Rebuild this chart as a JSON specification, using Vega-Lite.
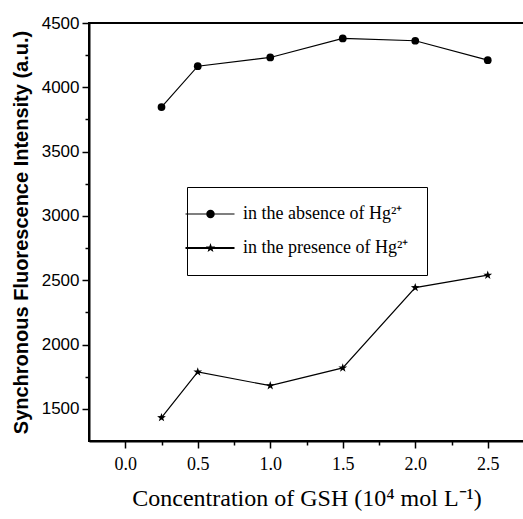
{
  "$schema": "https://vega.github.io/schema/vega-lite/v6.json",
  "autosize": "none",
  "width": 435,
  "height": 418,
  "padding": {"left": 89, "top": 23, "right": 0, "bottom": 78},
  "background": "white",
  "config": {
    "view": {"stroke": "black", "strokeWidth": 2},
    "axis": {"domainColor": "black", "domainWidth": 2, "tickColor": "black", "tickWidth": 1.5, "labelColor": "black", "titleColor": "black", "grid": false}
  },
  "data": {
    "values": [
      {"x": 0.25, "y": 3846, "s": "absence"},
      {"x": 0.5, "y": 4164, "s": "absence"},
      {"x": 1.0, "y": 4232, "s": "absence"},
      {"x": 1.5, "y": 4380, "s": "absence"},
      {"x": 2.0, "y": 4362, "s": "absence"},
      {"x": 2.5, "y": 4211, "s": "absence"},
      {"x": 0.25, "y": 1432, "s": "presence"},
      {"x": 0.5, "y": 1787, "s": "presence"},
      {"x": 1.0, "y": 1680, "s": "presence"},
      {"x": 1.5, "y": 1818, "s": "presence"},
      {"x": 2.0, "y": 2443, "s": "presence"},
      {"x": 2.5, "y": 2539, "s": "presence"}
    ]
  },
  "encoding": {
    "x": {
      "field": "x", "type": "quantitative",
      "scale": {"domain": [-0.25, 2.75], "nice": false, "zero": false},
      "axis": {
        "title": "Concentration of GSH (10⁴ mol L⁻¹)",
        "titleFont": "Liberation Serif", "titleFontSize": 24, "titleFontWeight": "normal", "titlePadding": 13,
        "values": [0, 0.25, 0.5, 0.75, 1, 1.25, 1.5, 1.75, 2, 2.25, 2.5, 2.75],
        "labelExpr": "(datum.value * 2) % 1 === 0 ? format(datum.value, '.1f') : ''",
        "labelFont": "Liberation Serif", "labelFontSize": 18, "labelPadding": 7,
        "tickSize": {"condition": {"test": "(datum.value * 2) % 1 === 0", "value": 7}, "value": 4}
      }
    },
    "y": {
      "field": "y", "type": "quantitative",
      "scale": {"domain": [1250, 4500], "nice": false, "zero": false},
      "axis": {
        "title": "Synchronous Fluorescence Intensity (a.u.)",
        "titleFont": "Liberation Sans", "titleFontSize": 20, "titleFontWeight": "bold", "titlePadding": 10,
        "values": [1500, 1750, 2000, 2250, 2500, 2750, 3000, 3250, 3500, 3750, 4000, 4250, 4500],
        "labelExpr": "datum.value % 500 === 0 ? format(datum.value, 'd') : ''",
        "labelFont": "Liberation Sans", "labelFontSize": 17, "labelPadding": 3,
        "tickSize": {"condition": {"test": "datum.value % 500 === 0", "value": 7}, "value": 4}
      }
    }
  },
  "layer": [
    {
      "mark": {"type": "line", "color": "black", "strokeWidth": 1.2},
      "encoding": {"detail": {"field": "s"}}
    },
    {
      "mark": {"type": "point", "filled": true, "color": "black", "opacity": 1},
      "encoding": {
        "size": {"condition": {"test": "datum.s === 'absence'", "value": 60}, "value": 85},
        "shape": {
          "field": "s", "type": "nominal",
          "scale": {"domain": ["absence", "presence"], "range": ["circle", "M0,-1L0.235,-0.324L0.951,-0.309L0.38,0.124L0.588,0.809L0,0.4L-0.588,0.809L-0.38,0.124L-0.951,-0.309L-0.235,-0.324Z"]},
          "legend": null
        }
      }
    },
    {
      "mark": {"type": "point", "filled": true, "fill": "black", "opacity": 0},
      "encoding": {
        "shape": {
          "field": "s", "type": "nominal",
          "scale": {"domain": ["absence", "presence"], "range": ["M-5,-0.12H4.8V0.12H-5ZM0.85,0A0.85,0.85,0,1,1,-0.85,0A0.85,0.85,0,1,1,0.85,0Z", "M-5,-0.2H4.8V0.2H-5ZM0,-1L0.235,-0.324L0.951,-0.309L0.38,0.124L0.588,0.809L0,0.4L-0.588,0.809L-0.38,0.124L-0.951,-0.309L-0.235,-0.324Z"]},
          "legend": {
            "orient": "none", "legendX": 98, "legendY": 164, "title": null,
            "labelExpr": "datum.value === 'absence' ? 'in the absence of Hg²⁺' : 'in the presence of Hg²⁺'",
            "labelFont": "Liberation Serif", "labelFontSize": 18, "labelColor": "black", "labelLimit": 400,
            "padding": 18, "rowPadding": 16, "labelOffset": 23.5, "symbolOffset": -3.5,
            "strokeColor": "black", "fillColor": "white",
            "symbolSize": 100, "symbolStrokeWidth": 0, "symbolFillColor": "black", "symbolOpacity": 1,
            "encode": {
              "legend": {"update": {"strokeWidth": {"value": 1.5}}}
            }
          }
        }
      }
    }
  ],
  "resolve": {"scale": {"shape": "independent"}}
}
